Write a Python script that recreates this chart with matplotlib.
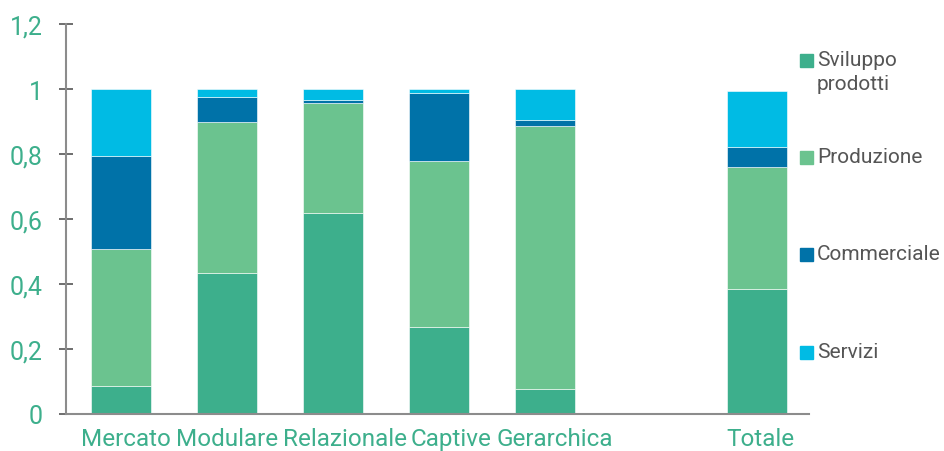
import numpy as np
import matplotlib.pyplot as plt
import matplotlib.transforms as mtransforms
from matplotlib.patches import Rectangle
from matplotlib.ticker import FuncFormatter

plt.rcParams['font.family'] = ['Roboto', 'DejaVu Sans']

categorie = ['Mercato', 'Modulare', 'Relazionale', 'Captive', 'Gerarchica', '', 'Totale']
sviluppo = [0.085, 0.435, 0.617, 0.267, 0.076, 0, 0.384]
produzione = [0.423, 0.462, 0.341, 0.511, 0.811, 0, 0.377]
commerciale = [0.287, 0.079, 0.009, 0.210, 0.018, 0, 0.061]
servizi = [0.205, 0.024, 0.033, 0.012, 0.095, 0, 0.172]

serie = ['Sviluppo\nprodotti', 'Produzione', 'Commerciale', 'Servizi']
colori = ['#3daf8c', '#6bc38f', '#0072a8', '#00bbe4']
verde = '#3daf8c'

fig = plt.figure(figsize=(9.45, 4.52), dpi=100)
ax = fig.add_axes([66 / 945, 37 / 452, 743 / 945, 390 / 452])

x = np.arange(len(categorie))
base = np.zeros(len(categorie))
for vals, col in zip([sviluppo, produzione, commerciale, servizi], colori):
    vals = np.array(vals)
    ax.bar(x, vals, bottom=base, width=0.56, color=col, edgecolor='white', linewidth=0.4)
    base += vals

ax.set_xlim(-0.52, 6.49)
ax.set_ylim(0, 1.2)
ax.set_yticks([0, 0.2, 0.4, 0.6, 0.8, 1.0, 1.2])
ax.yaxis.set_major_formatter(FuncFormatter(lambda v, p: ('%g' % round(v, 1)).replace('.', ',')))
ax.set_xticks(x)
ax.set_xticklabels(categorie)

for s in ['top', 'right']:
    ax.spines[s].set_visible(False)
for s in ['left', 'bottom']:
    ax.spines[s].set_color('#8c8c8c')
    ax.spines[s].set_linewidth(1.5)

ax.tick_params(axis='y', direction='inout', length=9.5, width=1.2, color='#555555',
               labelsize=18, labelcolor=verde, pad=12)
ax.tick_params(axis='x', length=0, labelsize=17.5, labelcolor=verde, pad=9.5)

# le etichette nell'originale non sono centrate sulle barre
spost = [4.5, 0, 11.5, 11.5, 10, 0, 3.5]
for lab, dx in zip(ax.get_xticklabels(), spost):
    off = mtransforms.ScaledTranslation(dx / 100, 0, fig.dpi_scale_trans)
    lab.set_transform(lab.get_transform() + off)

# legenda a destra
ys = [61, 158, 255, 353]
for lab, col, yy in zip(serie, colori, ys):
    fig.add_artist(Rectangle((800 / 945, 1 - (yy + 6.5) / 452), 13 / 945, 13 / 452,
                             transform=fig.transFigure, color=col))
    fig.text(817 / 945, 1 - (yy - 10) / 452, lab, fontsize=15, color='#555555',
             va='top', ha='left', linespacing=1.3)

fig.savefig('out.png', dpi=100)
